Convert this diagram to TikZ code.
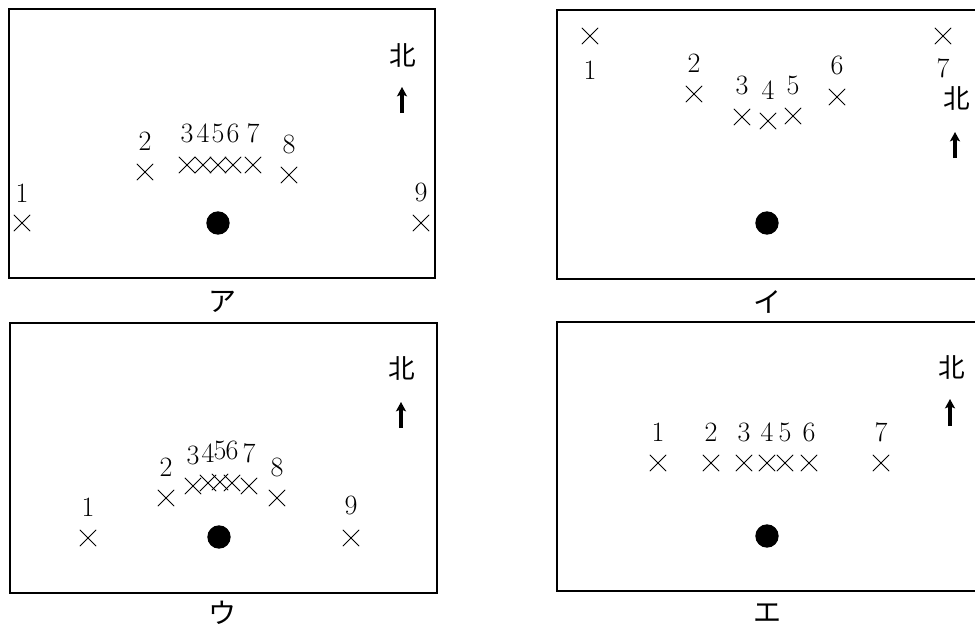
\documentclass[tikz,border=0pt]{standalone}
\usepackage{fontspec}
\newfontfamily\jpfont{Noto Sans CJK JP}
\usetikzlibrary{shapes.misc, arrows.meta}

\begin{document}
\begin{tikzpicture}[x=0.75pt, y=-0.75pt,
		frame/.style={draw, line width=2pt},
		spotx/.style={cross out, draw, line width=0.7pt, minimum size=11.5pt, inner sep=0pt},
		num/.style={inner sep=0pt, font=\fontsize{21}{21}\selectfont},
		kana/.style={inner sep=0pt, font=\jpfont\fontsize{21}{21}\selectfont},
		north/.style={inner sep=0pt, font=\jpfont\fontsize{20}{20}\selectfont},
		northarrow/.style={draw, line width=2.3pt, -{Stealth[length=7pt, width=7.5pt, inset=1.5pt]}},
		hole/.style={circle, fill, minimum size=17.5pt, inner sep=0pt}]
	\useasboundingbox (0,0) rectangle (975,628);

	% ア
	\draw[frame] (9,9) rectangle (435,278);
	\node[hole] (holeA) at (218,223) {};
	\node[north] (kitaA) at (403,55) {北};
	\coordinate (yaA-s) at (402,113);
	\coordinate (yaA-e) at (402,87);
	\draw[northarrow] (yaA-s) -- (yaA-e);
	\node[kana] (capA) at (222,302) {ア};
	\foreach \n/\x/\y/\ly in {1/22/223/193, 2/145/172/141, 3/187/165/133, 4/203/165/133, 5/218/165/133,
			6/233/165/133, 7/253/165/133, 8/289/175/144, 9/421/223/192} {
		\node[spotx] (a\n) at (\x,\y) {};
		\node[num] (a\n-num) at (\x,\ly) {\n};
	}

	% イ
	\draw[frame] (557,10) rectangle (990,279);
	\node[hole] (holeB) at (767,223) {};
	\node[north] (kitaB) at (957,98) {北};
	\coordinate (yaB-s) at (955,158);
	\coordinate (yaB-e) at (955,132);
	\draw[northarrow] (yaB-s) -- (yaB-e);
	\node[kana] (capB) at (767,302) {イ};
	\foreach \n/\x/\y/\ly in {1/590/36/70, 2/694/94/63, 3/742/117/85, 4/768/121/90,
			5/793/116/85, 6/837/97/65, 7/943/36/68} {
		\node[spotx] (b\n) at (\x,\y) {};
		\node[num] (b\n-num) at (\x,\ly) {\n};
	}

	% ウ
	\draw[frame] (10,323) rectangle (437,593);
	\node[hole] (holeC) at (219,537) {};
	\node[north] (kitaC) at (402,368) {北};
	\coordinate (yaC-s) at (401,428);
	\coordinate (yaC-e) at (401,402);
	\draw[northarrow] (yaC-s) -- (yaC-e);
	\node[kana] (capC) at (222,613) {ウ};
	\foreach \n/\x/\y/\ly in {1/88/538/507, 2/166/498/467, 3/193/486/455, 4/208/483/453, 5/220/482/450,
			6/232/483/450, 7/249/486/453, 8/277/498/467, 9/351/538/505} {
		\node[spotx] (c\n) at (\x,\y) {};
		\node[num] (c\n-num) at (\x,\ly) {\n};
	}

	% エ
	\draw[frame] (557,322) rectangle (990,591);
	\node[hole] (holeD) at (767,536) {};
	\node[north] (kitaD) at (952,367) {北};
	\coordinate (yaD-s) at (950,426);
	\coordinate (yaD-e) at (950,399);
	\draw[northarrow] (yaD-s) -- (yaD-e);
	\node[kana] (capD) at (767,613) {エ};
	\foreach \n/\x in {1/658, 2/711, 3/744, 4/767, 5/785, 6/809, 7/881} {
		\node[spotx] (d\n) at (\x,463) {};
		\node[num] (d\n-num) at (\x,432) {\n};
	}

\end{tikzpicture}
\end{document}
